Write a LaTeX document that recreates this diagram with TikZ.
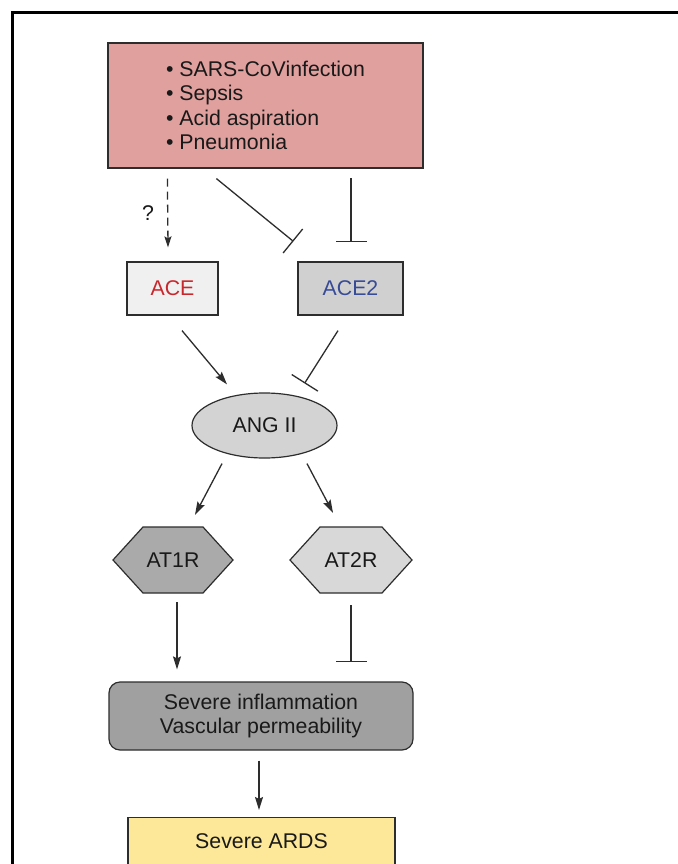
\documentclass[tikz,border=0pt]{standalone}
\usepackage{fontspec}
\setmainfont{Liberation Sans}
\usetikzlibrary{arrows.meta,shapes.geometric,calc}
\definecolor{redbox}{RGB}{223,160,158}
\definecolor{acefill}{RGB}{240,240,240}
\definecolor{acetwofill}{RGB}{208,208,208}
\definecolor{angfill}{RGB}{211,211,211}
\definecolor{atonefill}{RGB}{170,170,170}
\definecolor{attwofill}{RGB}{216,216,216}
\definecolor{inflfill}{RGB}{160,160,160}
\definecolor{ardsfill}{RGB}{252,232,152}
\definecolor{acered}{RGB}{200,40,45}
\definecolor{aceblue}{RGB}{55,75,150}
\definecolor{edge}{RGB}{45,45,45}
\begin{document}
\begin{tikzpicture}[x=1pt,y=-1pt,
  every node/.style={font=\fontsize{21.3}{24.5}\selectfont, text=black!90},
  box/.style={draw=edge, line width=1.2pt, rectangle, inner sep=0pt},
  conn/.style={draw=edge, line width=1.3pt},
  arr/.style={conn, -{Stealth[length=13pt,width=8pt,inset=2pt]}},
  inh/.style={conn, -{Bar[width=31pt,line width=1.3pt]}},
  hexlabel/.style={minimum width=120pt, minimum height=66pt, inner sep=0pt}
]
\useasboundingbox (0,0) rectangle (677,864);
\fill[white] (0,0) rectangle (677,864);
% frame
\draw[line width=3pt, black] (690,13) -- (12,13) -- (12,880);

% nodes
\node[box, fill=redbox, minimum width=315pt, minimum height=125pt, align=left] (top) at (265.5,105.5)
  {\textbullet\ SARS-CoVinfection\\\textbullet\ Sepsis\\\textbullet\ Acid aspiration\\\textbullet\ Pneumonia};
\node[box, fill=acefill, minimum width=91pt, minimum height=53pt, text=acered] (ace) at (172.5,288.5) {ACE};
\node[box, fill=acetwofill, minimum width=105pt, minimum height=53pt, text=aceblue] (ace2) at (350.5,288.5) {ACE2};
\node[draw=edge, line width=1.2pt, ellipse, fill=angfill, minimum width=145pt, minimum height=65pt, inner sep=0pt] (ang) at (264.5,425.5) {ANG II};
% hexagons
\draw[draw=edge, line width=1.2pt, fill=atonefill] (113,560) -- (143,527) -- (203,527) -- (233,560) -- (203,593) -- (143,593) -- cycle;
\node[hexlabel] (at1) at (173,560) {AT1R};
\draw[draw=edge, line width=1.2pt, fill=attwofill] (290,560) -- (320,527) -- (382,527) -- (412,560) -- (382,593) -- (320,593) -- cycle;
\node[hexlabel] (at2) at (351,560) {AT2R};
\node[box, fill=inflfill, rounded corners=11pt, minimum width=304pt, minimum height=68pt, align=center] (infl) at (261,716)
  {Severe inflammation\\Vascular permeability};
\node[box, fill=ardsfill, minimum width=267pt, anchor=north, text height=30.6pt, text depth=45pt] (ards) at (261.5,817) {Severe ARDS};

\node (q) at (148,213) {?};

% connectors
\coordinate (d1) at ($(top.south west)+(60,10)$);
\coordinate (d2) at ($(ace.north)+(-4.5,-14)$);
\draw[conn, dashed, dash pattern=on 8pt off 5pt, -{Stealth[length=11pt,width=7pt,inset=2pt]}] (d1) -- (d2);

\coordinate (i1a) at ($(top.south west)+(109,10)$);
\coordinate (i1b) at ($(ace2.north west)+(-4,-20)$);
\draw[inh] (i1a) -- (i1b);

\coordinate (i2a) at ($(ace2.north)+(0.5,-83)$);
\coordinate (i2b) at ($(ace2.north)+(0.5,-19)$);
\draw[inh] (i2a) -- (i2b);

\coordinate (a1a) at ($(ace.south)+(9.5,15)$);
\coordinate (a1b) at ($(ang.north)+(-37.5,-8)$);
\draw[arr] (a1a) -- (a1b);

\coordinate (i3a) at ($(ace2.south)+(-12.5,15)$);
\coordinate (i3b) at ($(ang.north)+(40,-9)$);
\draw[inh] (i3a) -- (i3b);

\coordinate (a2a) at ($(ang.south)+(-42.5,5)$);
\coordinate (a2b) at ($(at1.north)+(22,-12)$);
\draw[arr] (a2a) -- (a2b);

\coordinate (a3a) at ($(ang.south)+(42.5,5)$);
\coordinate (a3b) at ($(at2.north)+(-18,-14)$);
\draw[arr] (a3a) -- (a3b);

\coordinate (a4a) at ($(at1.south)+(4,9)$);
\coordinate (a4b) at ($(infl.north)+(-84,-12)$);
\draw[arr] (a4a) -- (a4b);

\coordinate (i4a) at ($(at2.south)+(0,12)$);
\coordinate (i4b) at ($(infl.north)+(90,-19)$);
\draw[inh] (i4a) -- (i4b);

\coordinate (a5a) at ($(infl.south)+(-2,10)$);
\coordinate (a5b) at ($(ards.north)+(-2.5,-7)$);
\draw[arr] (a5a) -- (a5b);
\end{tikzpicture}
\end{document}
